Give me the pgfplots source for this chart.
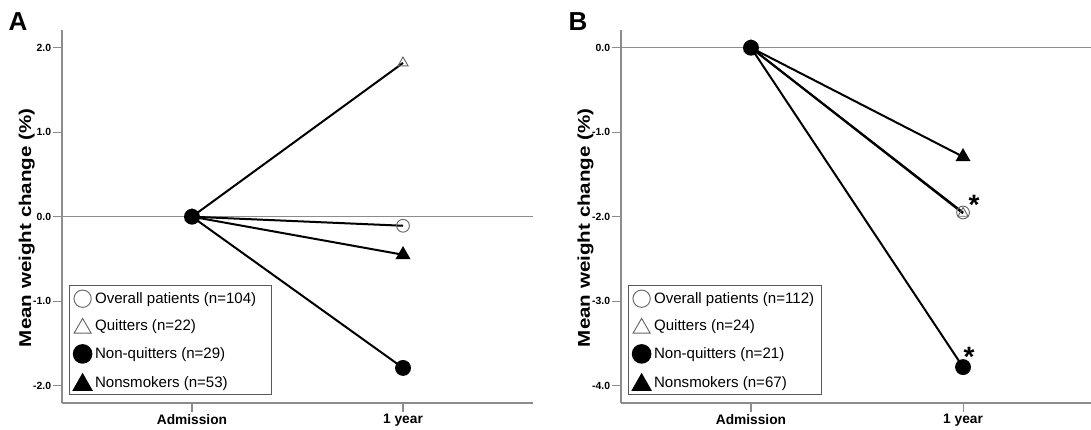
\documentclass[border=0pt]{standalone}
\usepackage{fontspec}
\setmainfont{Liberation Sans}
\usepackage{graphicx}
\usepackage{pgfplots}
\pgfplotsset{compat=1.18}

\definecolor{axgray}{gray}{0.55}
\definecolor{mkgray}{gray}{0.40}

\pgfplotsset{
  panel/.style={
    scale only axis,
    height=279.75pt,
    axis x line*=bottom, axis y line*=left,
    axis line style={draw=axgray, line width=0.8pt, -},
    every tick/.style={draw=axgray, line width=0.8pt},
    tick align=outside, major tick length=6.75pt,
    xtick={0,1}, xticklabels={Admission,1 year},
    x tick label style={font=\bfseries\fontsize{10.3}{12}\selectfont, inner sep=1.5pt},
    y tick label style={font=\bfseries\fontsize{7.8}{9}\selectfont, inner sep=1.2pt},
    /pgf/number format/assume math mode=true,
    yticklabel={\pgfmathprintnumber[fixed,fixed zerofill,precision=1]{\tick}},
    clip=false,
    legend cell align=left,
    legend style={anchor=south west, draw=black!65, line width=0.6pt, fill=white,
      font=\fontsize{11.3}{13}\selectfont, row sep=7.6pt,
      inner xsep=2.5pt, inner ysep=3pt, nodes={inner sep=1pt},
      /tikz/every odd column/.append style={column sep=1pt}},
  },
  ovl/.style={black, line width=1.5pt, mark=o, mark size=4.8pt,
     mark options={draw=mkgray, line width=0.7pt, fill=none},
     legend image code/.code={\draw[mkgray, line width=0.7pt] (6.6pt,0pt) circle (6.5pt);}},
  qui/.style={black, line width=1.5pt, mark=triangle, mark size=4.4pt,
     mark options={draw=mkgray, line width=0.7pt, fill=none},
     legend image code/.code={\draw[mkgray, line width=0.7pt] (0.2pt,-5.2pt) -- (13pt,-5.2pt) -- (6.6pt,5.8pt) -- cycle;}},
  nqu/.style={black, line width=1.5pt, mark=*, mark size=5.2pt,
     mark options={fill=black},
     legend image code/.code={\fill[black] (6.6pt,0pt) circle (6.6pt);}},
  nsm/.style={black, line width=1.5pt, mark=triangle*, mark size=5pt,
     mark options={fill=black},
     legend image code/.code={\fill[black] (0.2pt,-5.4pt) -- (13pt,-5.4pt) -- (6.6pt,5.8pt) -- cycle;}},
}

\newcommand{\ylab}{\resizebox{179pt}{\height}{\bfseries\fontsize{12.8}{14}\selectfont Mean weight change (\%)}}

\begin{document}
\begin{tikzpicture}
\useasboundingbox (0,0) rectangle (818.25pt,321.75pt);

% ---------------- Panel A ----------------
\begin{axis}[panel, at={(46.5pt,19.5pt)}, anchor=south west,
  width=353.25pt,
  xmin=-0.616, xmax=1.616, ymin=-2.205, ymax=2.21,
  ytick={-2,-1,0,1,2},
  ylabel={\ylab},
  ylabel style={at={(axis description cs:-0.075,0.47)}, anchor=center, rotate=0},
  legend style={at={(0.015,0.021)}},
]
\addplot[axgray, line width=0.8pt, forget plot] coordinates {(-0.616,0) (1.616,0)};
\addplot[ovl] coordinates {(0,0) (1,-0.107)};
\addlegendentry{Overall patients (n=104)\hspace*{8pt}}
\addplot[qui] coordinates {(0,0) (1,1.82)};
\addlegendentry{Quitters (n=22)}
\addplot[nqu] coordinates {(0,0) (1,-1.79)};
\addlegendentry{Non-quitters (n=29)}
\addplot[nsm] coordinates {(0,0) (1,-0.45)};
\addlegendentry{Nonsmokers (n=53)}
\end{axis}

% ---------------- Panel B ----------------
\begin{axis}[panel, at={(465.75pt,19.5pt)}, anchor=south west,
  width=354pt,
  xmin=-0.613, xmax=1.613, ymin=-4.205, ymax=0.21,
  ytick={-4,-3,-2,-1,0},
  ylabel={\ylab},
  ylabel style={at={(axis description cs:-0.075,0.47)}, anchor=center, rotate=0},
  legend style={at={(0.015,0.021)}},
]
\addplot[axgray, line width=0.8pt, forget plot] coordinates {(-0.613,0) (1.613,0)};
\addplot[ovl] coordinates {(0,0) (1,-1.95)};
\addlegendentry{Overall patients (n=112)\hspace*{2pt}}
\addplot[qui] coordinates {(0,0) (1,-1.96)};
\addlegendentry{Quitters (n=24)}
\addplot[nqu] coordinates {(0,0) (1,-3.78)};
\addlegendentry{Non-quitters (n=21)}
\addplot[nsm] coordinates {(0,0) (1,-1.29)};
\addlegendentry{Nonsmokers (n=67)}
\node[font=\bfseries\fontsize{21}{21}\selectfont, anchor=base] at (axis cs:1.052,-1.97) {*};
\node[font=\bfseries\fontsize{21}{21}\selectfont, anchor=base] at (axis cs:1.028,-3.77) {*};
\end{axis}

% panel letters
\node[font=\bfseries\fontsize{19.5}{20}\selectfont] at (13.5pt,305.25pt) {A};
\node[font=\bfseries\fontsize{19.5}{20}\selectfont] at (433.5pt,305.25pt) {B};
\end{tikzpicture}
\end{document}
